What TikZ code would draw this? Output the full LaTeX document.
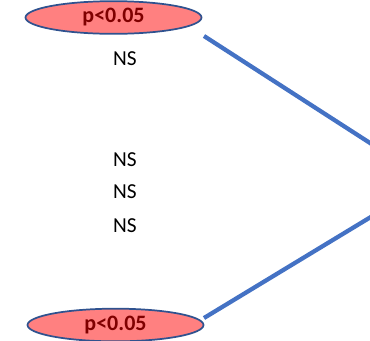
\documentclass[tikz,border=0pt]{standalone}
\usepackage{fontspec}
\setmainfont{Carlito}
\usetikzlibrary{shapes.geometric,arrows.meta}
\definecolor{pfill}{HTML}{FF8080}
\definecolor{pdraw}{HTML}{2F528F}
\definecolor{ptext}{HTML}{7F0000}
\definecolor{lblue}{HTML}{4472C4}
\begin{document}
\begin{tikzpicture}[x=0.75pt,y=-0.75pt,
  pval/.style={ellipse,draw=pdraw,fill=pfill,line width=1.3pt,minimum width=132pt,minimum height=24.5pt,inner sep=0pt,text=ptext,font=\fontsize{16.5}{18}\selectfont\bfseries},
  ns/.style={font=\fontsize{16}{18}\selectfont,inner sep=0pt},
  conn/.style={draw=lblue,line width=3.2pt}]
\useasboundingbox (0,0) rectangle (370,340);
\node[pval] (p1) at (113.5,17.5) {p<0.05};
\node[pval] (p2) at (115.5,325) {p<0.05};
\node[ns] (n1) at (125,59) {NS};
\node[ns] (n2) at (125,160) {NS};
\node[ns] (n3) at (125,192) {NS};
\node[ns] (n4) at (125,226) {NS};
\coordinate (a1) at (204,36);
\coordinate (b1) at (384,152);
\coordinate (a2) at (204,318);
\coordinate (b2) at (384,209);
\draw[conn,-{Triangle[length=9pt,width=9pt]}] (a1) -- (b1);
\draw[conn] (a2) -- (b2);
\end{tikzpicture}
\end{document}
